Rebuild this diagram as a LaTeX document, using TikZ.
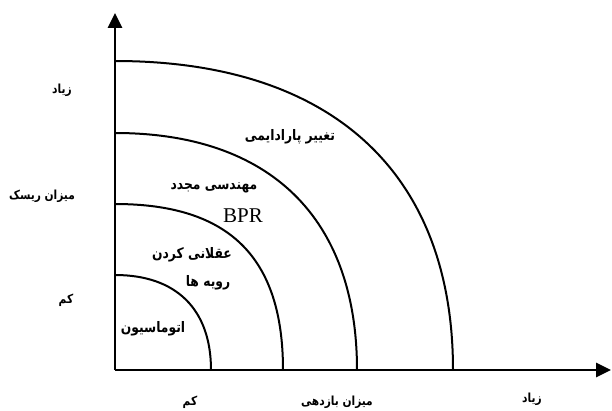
\documentclass[tikz,border=0pt]{standalone}
\usepackage{fontspec}
\setmainfont{Liberation Serif}
\newfontfamily\farsifont[Script=Arabic]{DejaVu Sans}
\TeXXeTstate=1
\usetikzlibrary{arrows.meta, positioning}
\newcommand{\farsitext}[1]{\scalebox{0.85}[1]{\beginR #1\endR}}
\tikzset{
  axis/.style={-{Triangle[length=15pt, width=14pt]}, line width=2.8pt},
  curve/.style={line width=2pt},
  axislabel/.style={font=\farsifont\bfseries\fontsize{12.5}{14}\selectfont, inner sep=0pt},
  zonelabel/.style={font=\farsifont\bfseries\fontsize{14.5}{16}\selectfont, inner sep=0pt},
  bprlabel/.style={font=\fontsize{21}{24}\selectfont, inner sep=0pt}
}

\begin{document}
\begin{tikzpicture}[x=1pt, y=1pt]
\useasboundingbox (-115,-40) rectangle (497,370);
% axes
\coordinate (origin) at (0,0);
\coordinate (ytip) at (0,357);
\coordinate (xtip) at (496,0);
\draw[axis] (origin) -- (ytip);
\draw[axis] (origin) -- (xtip);

% frontier curves
\draw[curve] (0,95) .. controls (61,95) and (96,61) .. (96,0);
\draw[curve] (0,166) .. controls (114,166) and (168,113) .. (168,0);
\draw[curve] (0,237) .. controls (155,237) and (242,152) .. (242,0);
\draw[curve] (0,309) .. controls (216,309) and (338,198) .. (338,0);

% axis labels
\node[axislabel] (riskhigh) at (-53,280) {\farsitext{زیاد}};
\node[axislabel] (risk) at (-73,174) {\farsitext{میزان ریسک}};
\node[axislabel] (risklow) at (-49,70) {\farsitext{کم}};
\node[axislabel] (gainlow) at (75,-32) {\farsitext{کم}};
\node[axislabel] (gain) at (222,-32) {\farsitext{میزان بازدهی}};
\node[axislabel] (gainhigh) at (417,-29) {\farsitext{زیاد}};

% zone labels
\node[zonelabel] (auto) at (38,41) {\farsitext{اتوماسیون}};
\node[zonelabel] (ratio) at (77,115) {\farsitext{عقلانی کردن}};
\node[zonelabel] (proc) at (93,87) {\farsitext{رویه ها}};
\node[zonelabel] (reeng) at (99,182) {\farsitext{مهندسی مجدد}};
\node[bprlabel] (bpr) at (128,154) {BPR};
\node[zonelabel] (shift) at (175,233) {\farsitext{تغییر پارادایمی}};
\end{tikzpicture}
\end{document}
